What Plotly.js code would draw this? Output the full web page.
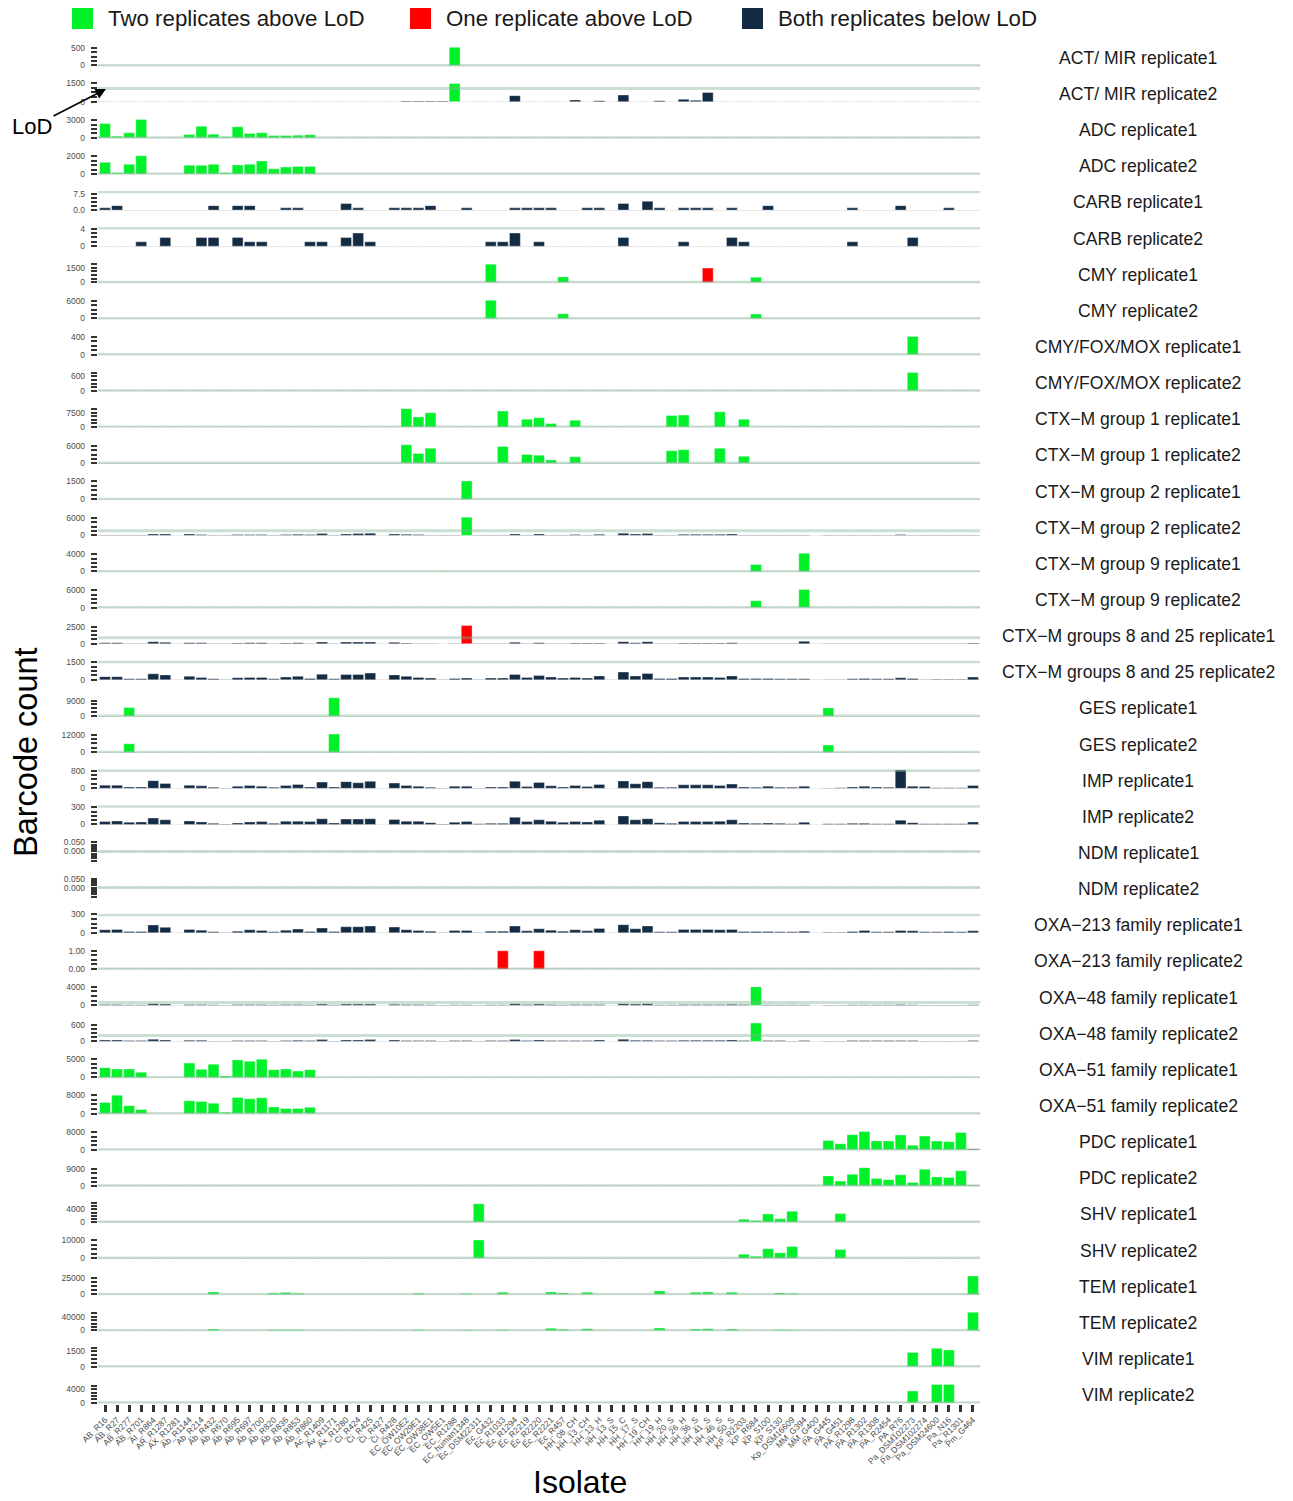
<!DOCTYPE html>
<html>
<head>
<meta charset="utf-8">
<script src="https://cdn.plot.ly/plotly-3.0.1.min.js"></script>
<style>
html,body{margin:0;padding:0;background:#ffffff;}
#chart{width:1293px;height:1501px;}
</style>
</head>
<body>
<div id="chart"></div>
<script>
// ---------------- DATA ----------------
const ISOLATES = ["AB_R16","AB_R27","AB_R277","AB_R701","AI_R864","AR_R1287","AX_R1281","Ab_R1144","Ab_R214","Ab_R432",
"Ab_R670","Ab_R695","Ab_R697","Ab_R700","Ab_R820","Ab_R836","Ab_R853","Ab_R860","Ac_R1409","Av_R1171",
"Ax_R1280","Ci_R424","Ci_R425","Ci_R427","Ci_R428","EC_OW10E2","EC_OW29E1","EC_OW38E1","EC_OW5E1","EC_R1288",
"EC_human1348","Ec_DSM22311","Ec_G432","Ec_R1033","Ec_R1294","Ec_R2219","Ec_R2220","Ec_R2221","Ec_R457","HH_08_CH",
"HH_13_CH","HH_13_H","HH_13_S","HH_15_C","HH_17_S","HH_19_CH","HH_19_H","HH_20_S","HH_26_H","HH_36_S",
"HH_41_S","HH_46_S","HH_50_S","KP_R2203","KP_R684","KP_S100","KP_S130","Kp_DSM16609","MM_G394","MM_G400",
"PA_G445","PA_G451","PA_R1298","PA_R1302","PA_R1308","PA_R2454","PA_R76","Pa_DSM102273","Pa_DSM102274","Pa_DSM24600",
"Pa_N16","Pa_R1301","Pm_G464"];

const GENES = ["ACT/ MIR","ADC","CARB","CMY","CMY/FOX/MOX","CTX\u2212M group 1","CTX\u2212M group 2","CTX\u2212M group 9",
"CTX\u2212M groups 8 and 25","GES","IMP","NDM","OXA\u2212213 family","OXA\u221248 family","OXA\u221251 family","PDC","SHV","TEM","VIM"];

const CATEGORY_LABELS = ["Two replicates above LoD","One replicate above LoD","Both replicates below LoD"];

// isolates per gene with two replicates above LoD
const TWO_ABOVE = {
  "ACT/ MIR": ["EC_R1288"],
  "ADC": ["AB_R16","AB_R27","AB_R277","AB_R701","Ab_R1144","Ab_R214","Ab_R432","Ab_R670","Ab_R695","Ab_R697","Ab_R700","Ab_R820","Ab_R836","Ab_R853","Ab_R860"],
  "CMY": ["Ec_G432","Ec_R457","KP_R684"],
  "CMY/FOX/MOX": ["Pa_DSM102273"],
  "CTX\u2212M group 1": ["EC_OW10E2","EC_OW29E1","EC_OW38E1","Ec_R1033","Ec_R2219","Ec_R2220","Ec_R2221","HH_08_CH","HH_20_S","HH_26_H","HH_46_S","KP_R2203"],
  "CTX\u2212M group 2": ["EC_human1348"],
  "CTX\u2212M group 9": ["EC_OW5E1","KP_R684","MM_G394"],
  "GES": ["AB_R277","Av_R1171","PA_G445"],
  "OXA\u221248 family": ["KP_R684"],
  "OXA\u221251 family": ["AB_R16","AB_R27","AB_R277","AB_R701","Ab_R1144","Ab_R214","Ab_R432","Ab_R670","Ab_R695","Ab_R697","Ab_R700","Ab_R820","Ab_R836","Ab_R853","Ab_R860"],
  "PDC": ["PA_G445","PA_G451","PA_R1298","PA_R1302","PA_R1308","PA_R2454","PA_R76","Pa_DSM102273","Pa_DSM102274","Pa_DSM24600","Pa_N16","Pa_R1301"],
  "SHV": ["Ec_DSM22311","KP_R2203","KP_R684","KP_S100","KP_S130","Kp_DSM16609","PA_G451"],
  "TEM": ["Ab_R432","Ab_R820","Ab_R836","Ab_R853","EC_OW29E1","EC_human1348","Ec_R1033","Ec_R2221","Ec_R457","HH_13_CH","HH_19_H","HH_36_S","HH_41_S","HH_50_S","KP_S130","Kp_DSM16609","Pm_G464"],
  "VIM": ["Pa_DSM102273","Pa_DSM24600","Pa_N16"]
};
// isolates per gene with one replicate above LoD -> the replicate that is above
const ONE_ABOVE = {
  "CMY": {HH_41_S: 1},
  "CTX\u2212M groups 8 and 25": {EC_human1348: 1},
  "OXA\u2212213 family": {Ec_R1033: 2, Ec_R2220: 2}
};

// barcode counts (sparse: isolate -> count, other isolates ~0)
const ACT_MIR_rep1 = {EC_R1288:520};
const ACT_MIR_rep2 = {EC_OW10E2:50,EC_OW29E1:50,EC_OW38E1:50,EC_OW5E1:50,EC_R1288:1480,Ec_R1294:484,HH_08_CH:135,HH_13_H:80,HH_15_C:540,HH_19_H:80,HH_26_H:190,HH_36_S:110,HH_41_S:750};
const ADC_rep1 = {AB_R16:2430,AB_R27:280,AB_R277:850,AB_R701:3110,Ab_R1144:570,Ab_R214:1980,Ab_R432:620,Ab_R670:170,Ab_R695:1870,Ab_R697:740,Ab_R700:850,Ab_R820:400,Ab_R836:400,Ab_R853:450,Ab_R860:510};
const ADC_rep2 = {AB_R16:1330,AB_R27:120,AB_R277:1100,AB_R701:2080,Ab_R1144:980,Ab_R214:980,Ab_R432:1100,Ab_R670:120,Ab_R695:1020,Ab_R697:1100,Ab_R700:1490,Ab_R820:590,Ab_R836:780,Ab_R853:860,Ab_R860:860};
const CARB_rep1 = {AB_R16:1,AB_R27:2,Ab_R432:2,Ab_R695:2,Ab_R697:2,Ab_R836:1,Ab_R853:1,Ax_R1280:3,Ci_R424:1,Ci_R428:1,EC_OW10E2:1,EC_OW29E1:1,EC_OW38E1:2,EC_human1348:1,Ec_R1294:1,Ec_R2219:1,Ec_R2220:1,Ec_R2221:1,HH_13_CH:1,HH_13_H:1,HH_15_C:3,HH_19_CH:4,HH_19_H:1,HH_26_H:1,HH_36_S:1,HH_41_S:1,HH_50_S:1,KP_S100:2,PA_R1298:1,PA_R76:2,Pa_N16:1};
const CARB_rep2 = {AB_R701:1,AR_R1287:2,Ab_R214:2,Ab_R432:2,Ab_R695:2,Ab_R697:1,Ab_R700:1,Ab_R860:1,Ac_R1409:1,Ax_R1280:2,Ci_R424:3,Ci_R425:1,Ec_G432:1,Ec_R1033:1,Ec_R1294:3,Ec_R2220:1,HH_15_C:2,HH_26_H:1,HH_50_S:2,KP_R2203:1,PA_R1298:1,Pa_DSM102273:2};
const CMY_rep1 = {Ec_G432:1880,Ec_R457:560,HH_41_S:1470,KP_R684:520};
const CMY_rep2 = {Ec_G432:6230,Ec_R457:1600,KP_R684:1500};
const CMY_FOX_MOX_rep1 = {Pa_DSM102273:410};
const CMY_FOX_MOX_rep2 = {Pa_DSM102273:760};
const CTXM1_rep1 = {EC_OW10E2:9640,EC_OW29E1:5180,EC_OW38E1:7500,Ec_R1033:8390,Ec_R2219:4100,Ec_R2220:4820,Ec_R2221:1790,HH_08_CH:3570,HH_20_S:6070,HH_26_H:6250,HH_46_S:8040,KP_R2203:4100};
const CTXM1_rep2 = {EC_OW10E2:6490,EC_OW29E1:3430,EC_OW38E1:5260,Ec_R1033:5880,Ec_R2219:3060,Ec_R2220:2820,Ec_R2221:1100,HH_08_CH:2200,HH_20_S:4410,HH_26_H:4770,HH_46_S:5260,KP_R2203:2450};
const CTXM2_rep1 = {EC_human1348:1530};
const CTXM2_rep2 = [125,125,125,125,500,500,0,500,250,125, 125,250,250,250,125,250,375,250,625,125,
  500,625,750,0,500,375,250,125,125,125, 6360,125,125,125,500,125,500,125,125,250,
  125,375,0,750,500,625,125,125,375,375, 375,375,500,125,125,125,125,125,125,0,
  125,125,125,125,125,125,250,125,125,125, 125,125,125];
const CTXM9_rep1 = {EC_OW5E1:30,KP_R684:1600,MM_G394:4240};
const CTXM9_rep2 = {EC_OW5E1:40,KP_R684:2400,MM_G394:6360};
const CTXM825_rep1 = [150,150,50,50,300,200,0,150,150,50, 20,100,150,150,50,100,150,50,250,50,
  250,250,250,0,200,100,50,50,10,50, 2650,20,50,50,200,50,150,50,50,100,
  100,100,0,300,150,300,50,50,100,100, 100,100,150,50,50,50,50,50,350,0,
  50,50,50,50,50,50,50,50,50,50, 50,50,100];
const CTXM825_rep2 = [270,270,90,90,510,420,0,300,210,90, 30,180,210,210,90,240,300,120,480,90,
  450,450,570,0,420,300,210,150,30,120, 150,30,150,150,450,210,360,240,150,210,
  150,330,0,660,330,540,120,120,240,240, 240,210,330,120,120,120,90,90,90,0,
  30,30,90,120,90,90,180,120,30,60, 60,60,240];
const GES_rep1 = {AB_R277:4900,Av_R1171:10580,PA_G445:4700};
const GES_rep2 = {AB_R277:5770,Av_R1171:12460,PA_G445:4850};
const IMP_rep1 = [140,140,60,60,345,220,0,140,110,50, 15,95,125,95,50,125,170,60,280,60,
  300,250,315,0,235,125,95,50,15,95, 95,15,60,60,315,80,265,110,60,125,
  80,170,0,330,205,300,50,50,155,155, 155,125,190,60,50,95,50,50,95,0,
  15,30,60,95,60,50,820,95,80,30, 30,30,125];
const IMP_rep2 = [50,62,38,44,112,81,0,62,44,19, 6,25,44,50,19,56,56,50,100,25,
  94,94,100,0,88,56,56,31,6,38, 50,12,19,19,125,50,81,56,38,50,
  44,75,0,150,81,100,31,19,50,50, 50,56,81,25,19,25,19,12,38,0,
  12,12,19,19,12,12,75,31,12,12, 12,12,44];
const NDM_rep1 = {};
const NDM_rep2 = {};
const OXA213_rep1 = [50,56,22,22,128,89,0,56,44,17, 6,28,50,39,17,44,61,22,78,22,
  100,100,111,0,94,50,39,28,6,39, 39,6,28,28,111,33,67,44,28,50,
  33,72,0,133,67,111,17,17,56,56, 56,50,56,22,22,22,17,17,28,0,
  11,11,22,39,17,17,39,33,17,17, 22,17,33];
const OXA213_rep2 = {Ec_R1033:1.0,Ec_R2220:1.0};
const OXA48_rep1 = [150,150,80,80,300,220,0,150,120,60, 20,120,150,120,60,150,150,80,220,60,
  220,220,250,0,200,150,120,80,20,100, 100,20,100,100,300,120,250,150,100,150,
  120,150,0,300,220,300,80,80,150,150, 150,150,200,120,3930,80,60,60,100,0,
  40,40,80,100,60,60,120,80,40,40, 40,40,100];
const OXA48_rep2 = [49,49,24,24,73,49,0,37,37,12, 12,24,24,24,12,24,37,24,61,12,
  49,49,61,0,49,24,24,24,12,24, 24,12,24,24,61,24,49,24,24,24,
  24,49,0,73,37,37,24,24,37,37, 37,37,49,24,660,24,24,12,24,0,
  12,12,24,24,24,24,24,24,12,12, 12,12,24];
const OXA51_rep1 = {AB_R16:2690,AB_R27:2310,AB_R277:2310,AB_R701:1440,Ab_R1144:3940,Ab_R214:2210,Ab_R432:3650,Ab_R670:380,Ab_R695:4810,Ab_R697:4420,Ab_R700:5000,Ab_R820:2120,Ab_R836:2310,Ab_R853:1730,Ab_R860:2120};
const OXA51_rep2 = {AB_R16:4830,AB_R27:8000,AB_R277:3470,AB_R701:1810,Ab_R1144:5590,Ab_R214:5280,Ab_R432:4530,Ab_R670:600,Ab_R695:7100,Ab_R697:6490,Ab_R700:6950,Ab_R820:2870,Ab_R836:2270,Ab_R853:2270,Ab_R860:2720};
const PDC_rep1 = {PA_G445:4160,PA_G451:2720,PA_R1298:6880,PA_R1302:8320,PA_R1308:4000,PA_R2454:4000,PA_R76:6720,Pa_DSM102273:2080,Pa_DSM102274:6240,Pa_DSM24600:4000,Pa_N16:3680,Pa_R1301:7840,Pm_G464:300};
const PDC_rep2 = {PA_G445:5440,PA_G451:2630,PA_R1298:6380,PA_R1302:9940,PA_R1308:3940,PA_R2454:3380,PA_R76:6000,Pa_DSM102273:1880,Pa_DSM102274:9000,Pa_DSM24600:4880,Pa_N16:4500,Pa_R1301:8250,Pm_G464:350};
const SHV_rep1 = {Ec_DSM22311:5780,KP_R2203:890,KP_R684:440,KP_S100:2560,KP_S130:1000,Kp_DSM16609:3440,PA_G451:2670};
const SHV_rep2 = {Ec_DSM22311:10200,KP_R2203:2160,KP_R684:980,KP_S100:5290,KP_S130:2940,Kp_DSM16609:6470,PA_G451:4900};
const TEM_rep1 = {Ab_R432:3570,Ab_R820:2040,Ab_R836:2550,Ab_R853:1530,EC_OW29E1:1530,EC_human1348:1020,Ec_R1033:3060,Ec_R2221:3570,Ec_R457:2040,HH_13_CH:3060,HH_19_H:5100,HH_36_S:3060,HH_41_S:3570,HH_50_S:3060,KP_S130:2040,Kp_DSM16609:1020,Pm_G464:27550};
const TEM_rep2 = {Ab_R432:4000,Ab_R820:2000,Ab_R836:2000,Ab_R853:2000,EC_OW29E1:2000,EC_human1348:1000,Ec_R1033:2000,Ec_R2221:6000,Ec_R457:3000,HH_13_CH:5000,HH_19_H:7000,HH_36_S:4000,HH_41_S:5000,HH_50_S:4000,KP_S130:2000,Kp_DSM16609:1000,Pm_G464:53000};
const VIM_rep1 = {Pa_DSM102273:1400,Pa_DSM24600:1800,Pa_N16:1640};
const VIM_rep2 = {Pa_DSM102273:3490,Pa_DSM24600:5440,Pa_N16:5440};

// panel order (gene, replicate 1 then 2)
const PANEL_VALUES = [ACT_MIR_rep1,ACT_MIR_rep2,ADC_rep1,ADC_rep2,CARB_rep1,CARB_rep2,CMY_rep1,CMY_rep2,
  CMY_FOX_MOX_rep1,CMY_FOX_MOX_rep2,CTXM1_rep1,CTXM1_rep2,CTXM2_rep1,CTXM2_rep2,CTXM9_rep1,CTXM9_rep2,
  CTXM825_rep1,CTXM825_rep2,GES_rep1,GES_rep2,IMP_rep1,IMP_rep2,NDM_rep1,NDM_rep2,OXA213_rep1,OXA213_rep2,
  OXA48_rep1,OXA48_rep2,OXA51_rep1,OXA51_rep2,PDC_rep1,PDC_rep2,SHV_rep1,SHV_rep2,TEM_rep1,TEM_rep2,VIM_rep1,VIM_rep2];
// limit of detection per panel
const LOD = [0,1075,0,0,8.3,4.15,0,0,0,0,0,0,0,1560,0,0,880,1530,0,0,800,320,0,0,295,0,590,210,0,0,0,0,0,0,0,0,0,0];
// labelled top y tick per panel, and decimals for its label
const Y_TOP_TICK = [500,1500,3000,2000,7.5,4,1500,6000,400,600,7500,6000,1500,6000,4000,6000,2500,1500,9000,12000,
  800,300,0.05,0.05,300,1,4000,600,5000,8000,8000,9000,4000,10000,25000,40000,1500,4000];
const Y_TICK_DECIMALS = [0,0,0,0,1,0,0,0,0,0,0,0,0,0,0,0,0,0,0,0,0,0,3,3,0,2,0,0,0,0,0,0,0,0,0,0,0,0];

// ---------------- BUILD ----------------
const W = 1293, H = 1501;
const GREEN = '#00F02A', RED = '#FF0000', NAVY = '#132B43';
const FONT = 'Liberation Sans, Arial, Helvetica, sans-serif';
const px = v => v / W;
const py = v => 1 - v / H;
const PITCH = 36.14, TOP0 = 46.4, PANEL_H = 20;

const traces = [];
const shapes = [];
const annotations = [];
const layout = {
  width: W, height: H,
  margin: {l: 0, r: 0, t: 0, b: 0},
  paper_bgcolor: '#ffffff', plot_bgcolor: 'rgba(0,0,0,0)',
  showlegend: false,
  barmode: 'overlay',
  font: {family: FONT, color: '#1a1a1a'},
  xaxis: {
    domain: [px(97.8), px(980.2)], anchor: 'y38', type: 'category',
    categoryorder: 'array', categoryarray: ISOLATES,
    range: [-0.6, ISOLATES.length - 0.4],
    tickangle: -45, tickfont: {size: 8.5, color: '#4d4d4d', family: FONT},
    ticks: 'outside', ticklen: 7, tickwidth: 3, tickcolor: '#333333',
    showgrid: false, zeroline: false, showline: false, automargin: false, fixedrange: true
  }
};

let panel = 0;
GENES.forEach(gene => {
  const two = TWO_ABOVE[gene] || [];
  const one = ONE_ABOVE[gene] || {};
  [1, 2].forEach(rep => {
    const k = panel;
    const colors = ISOLATES.map(n => two.includes(n) ? GREEN : (one[n] === rep ? RED : NAVY));
    const raw = PANEL_VALUES[k];
    const vals = Array.isArray(raw) ? raw.slice() : ISOLATES.map(n => raw[n] || 0);
    const yid = k === 0 ? 'y' : 'y' + (k + 1);
    const yname = k === 0 ? 'yaxis' : 'yaxis' + (k + 1);
    const top = TOP0 + PITCH * k, bot = top + PANEL_H;
    const R = Math.max(Math.max.apply(null, vals), LOD[k]);
    const range = R > 0 ? [-0.05 * R, 1.05 * R] : [-0.055, 0.055];
    const tt = Y_TOP_TICK[k], dec = Y_TICK_DECIMALS[k];
    layout[yname] = {
      domain: [py(bot), py(top)], anchor: 'x', range: range,
      tickmode: 'array', tickvals: [0, tt], ticktext: [(0).toFixed(dec), tt.toFixed(dec)],
      ticks: 'outside', ticklen: 6, tickwidth: 2, tickcolor: '#333333',
      minor: {ticks: 'outside', ticklen: 6, tickwidth: 2, tickcolor: '#333333', tick0: 0, dtick: tt / 4, showgrid: false},
      tickfont: {size: 8.5, color: '#4d4d4d', family: FONT},
      ticklabelstandoff: 4,
      showgrid: false, zeroline: true, zerolinecolor: '#dddddd', zerolinewidth: 1,
      showline: false, automargin: false, fixedrange: true
    };
    traces.push({
      type: 'bar', x: ISOLATES, y: vals, xaxis: 'x', yaxis: yid,
      width: 0.9,
      marker: {color: colors, line: {color: 'rgba(255,255,255,0.6)', width: 0.6}},
      hovertemplate: gene + ' replicate' + rep + '<br>%{x}: %{y}<extra></extra>'
    });
    // LoD line
    shapes.push({
      type: 'line', xref: 'x domain', yref: yid, x0: 0, x1: 1, y0: LOD[k], y1: LOD[k],
      line: {color: 'rgba(130,180,150,0.42)', width: 3}, layer: 'above'
    });
    // panel label on right
    annotations.push({
      xref: 'paper', yref: 'paper', x: px(1138), y: py((top + bot) / 2 + 1.5),
      text: gene + ' replicate' + rep, showarrow: false, xanchor: 'center', yanchor: 'middle',
      font: {size: 17.6, color: '#1a1a1a', family: FONT}
    });
    panel++;
  });
});

// legend (custom, top)
const LEG_COLORS = [GREEN, RED, NAVY];
const LEG_BOX_X = [72, 410, 742];
CATEGORY_LABELS.forEach((lab, i) => {
  shapes.push({type: 'rect', xref: 'paper', yref: 'paper',
    x0: px(LEG_BOX_X[i]), x1: px(LEG_BOX_X[i] + 21), y0: py(29), y1: py(8),
    fillcolor: LEG_COLORS[i], line: {width: 0}});
  annotations.push({xref: 'paper', yref: 'paper', x: px(LEG_BOX_X[i] + 34), y: py(19),
    text: lab, showarrow: false, xanchor: 'left', yanchor: 'middle',
    font: {size: 22.3, color: '#1a1a1a', family: FONT}});
});

// LoD pointer
annotations.push({xref: 'paper', yref: 'paper', x: px(106), y: py(89),
  text: 'LoD', showarrow: true, arrowhead: 2, arrowsize: 1.3, arrowwidth: 1.6, arrowcolor: '#000000',
  ax: -74, ay: 38, font: {size: 22, color: '#000000', family: FONT}});

// axis titles
annotations.push({xref: 'paper', yref: 'paper', x: px(26), y: py(752), text: 'Barcode count',
  textangle: -90, showarrow: false, xanchor: 'center', yanchor: 'middle',
  font: {size: 32.5, color: '#000000', family: FONT}});
annotations.push({xref: 'paper', yref: 'paper', x: px(580), y: py(1482), text: 'Isolate',
  showarrow: false, xanchor: 'center', yanchor: 'middle',
  font: {size: 32, color: '#000000', family: FONT}});

layout.shapes = shapes;
layout.annotations = annotations;

Plotly.newPlot('chart', traces, layout, {displayModeBar: false, responsive: false});
</script>
</body>
</html>
